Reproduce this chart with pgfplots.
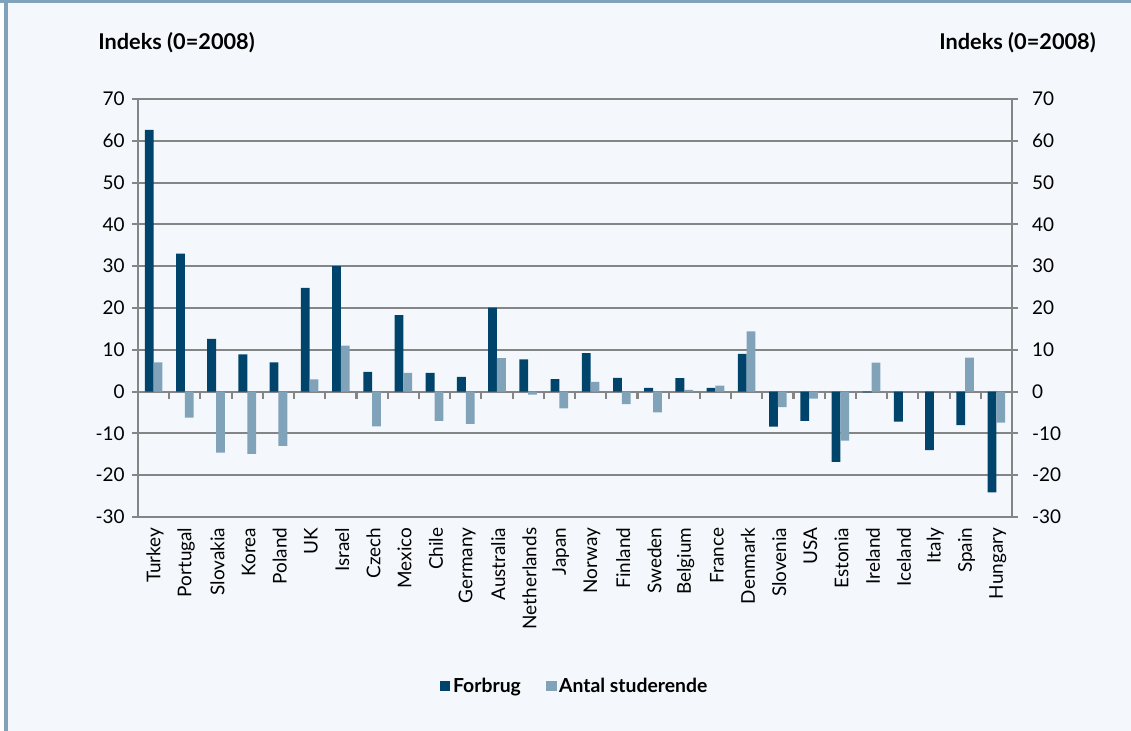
\documentclass[border=0pt]{standalone}
\usepackage{fontspec}
\setmainfont{Lato}
\usepackage{pgfplots}
\usepackage{pgfplotstable}
\pgfplotsset{compat=1.18}

\definecolor{darkbar}{HTML}{00446B}
\definecolor{lightbar}{HTML}{80A3BA}
\definecolor{bgc}{HTML}{F4F8FC}
\definecolor{framec}{HTML}{80A3BA}
\definecolor{gridc}{HTML}{858585}

\pgfplotstableread{
idx country forbrug antal
0 Turkey 62.6 7.0
1 Portugal 33.0 -6.2
2 Slovakia 12.6 -14.6
3 Korea 8.9 -14.9
4 Poland 7.0 -13.0
5 UK 24.8 2.9
6 Israel 30.0 11.0
7 Czech 4.7 -8.3
8 Mexico 18.3 4.5
9 Chile 4.5 -7.0
10 Germany 3.5 -7.7
11 Australia 20.1 8.0
12 Netherlands 7.7 -0.7
13 Japan 3.0 -4.0
14 Norway 9.2 2.3
15 Finland 3.3 -3.0
16 Sweden 0.9 -5.0
17 Belgium 3.2 0.4
18 France 0.9 1.4
19 Denmark 9.0 14.4
20 Slovenia -8.4 -3.7
21 USA -7.0 -1.7
22 Estonia -16.8 -11.7
23 Ireland -0.2 6.9
24 Iceland -7.2 0
25 Italy -14.0 0
26 Spain -8.0 8.1
27 Hungary -24.1 -7.4
}\datatable

\begin{document}
\begin{tikzpicture}
% page frame, 1 unit = 1 px of the reference
\begin{scope}[x=0.75pt,y=0.75pt]
  \fill[white] (0,0) rectangle (1131,731);
  \fill[bgc] (8,0) rectangle (1131,728);
  \fill[framec] (0,728) rectangle (1131,731);
  \fill[framec] (4,0) rectangle (8,731);
  \useasboundingbox (0,0) rectangle (1131,731);
  \node[anchor=west, font=\bfseries\fontsize{16.3}{19}\selectfont, inner sep=0pt] at (98,688) {Indeks (0=2008)};
  \node[anchor=east, font=\bfseries\fontsize{16.3}{19}\selectfont, inner sep=0pt] at (1096,688) {Indeks (0=2008)};
\end{scope}

\pgfplotsset{
  chartbase/.style={
    at={(103.5pt,160.5pt)}, anchor=south west,
    scale only axis, width=655.5pt, height=313.5pt,
    xmin=-0.5, xmax=27.5, ymin=-30, ymax=70,
    ytick={-30,-20,...,70},
    tick align=outside, major tick length=4.5pt,
    y tick style={gridc, line width=1.6pt},
    y axis line style={gridc, line width=2pt},
    tick label style={font=\fontsize{14.2}{17}\selectfont},
    /pgf/number format/assume math mode=true,
  }
}

\begin{axis}[
  chartbase,
  axis y line*=left, axis x line*=bottom,
  x axis line style={draw=none},
  x tick style={draw=none},
  y tick label style={xshift=-2pt},
  ymajorgrids, major grid style={gridc, line width=1.6pt},
  ybar=0pt, bar width=6.6pt,
  xtick={0,...,27},
  xticklabels from table={\datatable}{country},
  x tick label style={rotate=90, anchor=east, yshift=-1pt},
  legend style={at={(axis description cs:0.5,-0.404)}, anchor=center,
    draw=none, fill=none, legend columns=-1,
    font=\bfseries\fontsize{14.5}{17}\selectfont,
    /tikz/every even column/.append style={column sep=17pt}},
  legend image code/.code={\fill[#1] (0pt,-3.9pt) rectangle (7.8pt,3.9pt);},
]
\addplot[fill=darkbar, draw=none] table[x=idx, y=forbrug] {\datatable};
\addplot[fill=lightbar, draw=none] table[x=idx, y=antal] {\datatable};
\legend{Forbrug, Antal studerende}
\pgfplotsinvokeforeach{0,...,26}{
  \draw[gridc, line width=1.6pt] (axis cs:#1+0.5,0) -- ++(0pt,-5.5pt);
}
\end{axis}

\begin{axis}[
  chartbase,
  axis y line*=right, axis x line=none,
  y tick label style={xshift=7pt},
]
\addplot[draw=none] coordinates {(0,0)};
\end{axis}
\end{tikzpicture}
\end{document}
